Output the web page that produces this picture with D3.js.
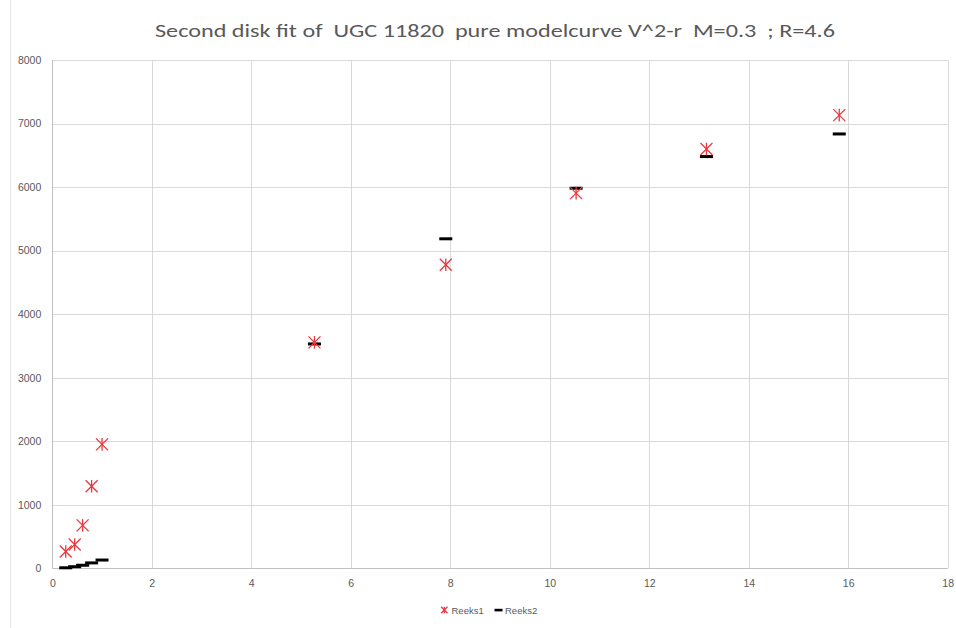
<!DOCTYPE html>
<html><head><meta charset="utf-8">
<script src="https://cdn.jsdelivr.net/npm/d3@7"></script>
<style>body{margin:0;background:#fff}svg{display:block}</style>
</head><body>
<script>
const titleText = "Second disk fit of  UGC 11820  pure modelcurve V^2-r  M=0.3  ; R=4.6";
const xValues = [0.27, 0.45, 0.61, 0.79, 1.0, 5.27, 7.91, 10.53, 13.15, 15.82];
const reeks1 = [265, 375, 676, 1292, 1950, 3556, 4778, 5905, 6600, 7132];
const reeks2 = [8, 25, 48, 85, 130, 3531, 5186, 5982, 6480, 6836];
const xTicks = [0, 2, 4, 6, 8, 10, 12, 14, 16, 18];
const yTicks = [0, 1000, 2000, 3000, 4000, 5000, 6000, 7000, 8000];
const seriesNames = ["Reeks1", "Reeks2"];

const W = 956, H = 628;
const svg = d3.select("body").append("svg").attr("width", W).attr("height", H);
const x = d3.scaleLinear().domain([0, 18]).range([52.3, 947.7]);
const y = d3.scaleLinear().domain([0, 8000]).range([568.3, 60]);
const txt = "#595959", grid = "#d9d9d9";
const font = "'Liberation Sans', Arial, sans-serif";

// faint frame line at left
svg.append("line").attr("x1", 10.5).attr("x2", 10.5).attr("y1", 0).attr("y2", H)
  .attr("stroke", "#e6e6e6").attr("stroke-width", 1);

// title
svg.append("text").attr("x", 495).attr("y", 37).attr("text-anchor", "middle")
  .attr("font-family", "Carlito, 'Open Sans', sans-serif").attr("font-size", 19)
  .attr("fill", txt).attr("textLength", 680).attr("lengthAdjust", "spacingAndGlyphs")
  .attr("xml:space", "preserve").style("white-space", "pre")
  .text(titleText);

// gridlines
const g = svg.append("g");
g.selectAll("line.h").data(yTicks).join("line")
  .attr("x1", x(0)).attr("x2", x(18)).attr("y1", d => Math.round(y(d)) + 0.5).attr("y2", d => Math.round(y(d)) + 0.5)
  .attr("stroke", d => d === 0 ? "#bfbfbf" : grid).attr("stroke-width", 1);
g.selectAll("line.v").data(xTicks).join("line")
  .attr("y1", y(0)).attr("y2", y(8000)).attr("x1", d => Math.round(x(d)) + 0.5).attr("x2", d => Math.round(x(d)) + 0.5)
  .attr("stroke", d => d === 0 ? "#bfbfbf" : grid).attr("stroke-width", 1);

// axes labels via d3 axes
const xAxis = svg.append("g").attr("transform", `translate(0,${y(0)})`)
  .call(d3.axisBottom(x).tickValues(xTicks).tickSize(0).tickPadding(11));
const yAxis = svg.append("g").attr("transform", `translate(${x(0)},0)`)
  .call(d3.axisLeft(y).tickValues(yTicks).tickSize(0).tickPadding(11).tickFormat(d3.format("d")));
[xAxis, yAxis].forEach(a => {
  a.select(".domain").remove();
  a.selectAll("text").attr("fill", txt).attr("font-family", font).attr("font-size", 10.5);
});

// markers
function star(sel, s, color) {
  sel.append("line").attr("x1", -s).attr("y1", -s).attr("x2", s).attr("y2", s);
  sel.append("line").attr("x1", -s).attr("y1", s).attr("x2", s).attr("y2", -s);
  sel.append("line").attr("x1", 0).attr("y1", -s * 1.05).attr("x2", 0).attr("y2", s * 1.05);
  sel.selectAll("line").attr("stroke", color).attr("stroke-width", 1.3);
}
const red = "#e8383d";
const pts = xValues.map((v, i) => ({ x: v, y1: reeks1[i], y2: reeks2[i] }));

svg.append("g").selectAll("rect").data(pts).join("rect")
  .attr("x", d => x(d.x) - 6.5).attr("y", d => y(d.y2) - 1.5)
  .attr("width", 13).attr("height", 3).attr("fill", "#000");

svg.append("g").selectAll("g").data(pts).join("g")
  .attr("transform", d => `translate(${x(d.x)},${y(d.y1)})`)
  .each(function () { star(d3.select(this), 6, red); });

// legend
const lg = svg.append("g").attr("font-family", font).attr("font-size", 9.5).attr("fill", txt);
const s1 = lg.append("g").attr("transform", "translate(444.3,610)");
star(s1, 3.2, red);
lg.append("text").attr("x", 451.5).attr("y", 613.5).text(seriesNames[0]);
lg.append("rect").attr("x", 494.5).attr("y", 608.8).attr("width", 8).attr("height", 2.6).attr("fill", "#000");
lg.append("text").attr("x", 505).attr("y", 613.5).text(seriesNames[1]);
</script>
</body></html>
